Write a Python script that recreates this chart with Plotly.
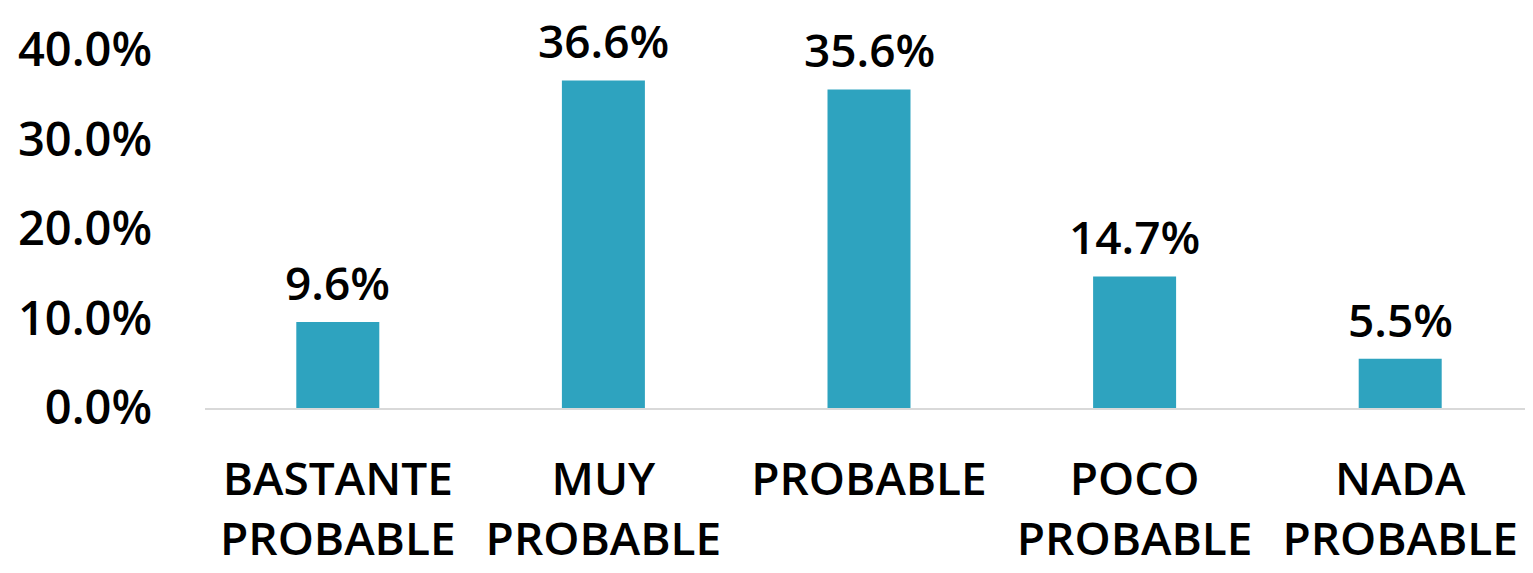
import plotly.graph_objects as go

categories = ["BASTANTE<br>PROBABLE", "MUY<br>PROBABLE", "PROBABLE", "POCO<br>PROBABLE", "NADA<br>PROBABLE"]
values = [9.6, 36.6, 35.6, 14.7, 5.5]
y_ticks = [0, 10, 20, 30, 40]
y_tick_labels = ["0.0%", "10.0%", "20.0%", "30.0%", "40.0%"]

fig = go.Figure(
    go.Bar(
        x=categories,
        y=values,
        marker=dict(color="#2EA3BF", line=dict(width=0)),
        cliponaxis=False,
    )
)

for c, v in zip(categories, values):
    fig.add_annotation(
        x=c, y=v, xref="x", yref="y",
        text=f"{v:.1f}%",
        showarrow=False,
        yanchor="bottom",
        yshift=8,
        borderpad=0,
        font=dict(family="Open Sans", size=46, color="#000000", weight=600),
    )

fig.update_layout(
    width=1525,
    height=565,
    margin=dict(l=197, r=0, t=42, b=165, autoexpand=False),
    paper_bgcolor="white",
    plot_bgcolor="white",
    bargap=0.6875,
    showlegend=False,
    font=dict(family="Open Sans", color="#000000"),
)
fig.update_xaxes(
    automargin=False,
    showline=True,
    linecolor="#D9D9D9",
    linewidth=2,
    showgrid=False,
    ticks="",
    tickfont=dict(family="Open Sans", size=46, color="#000000", weight=600),
    ticklabelstandoff=30,
)
fig.update_yaxes(
    automargin=False,
    range=[0, 40],
    tickvals=y_ticks,
    ticktext=y_tick_labels,
    showgrid=False,
    zeroline=False,
    showline=False,
    ticks="",
    tickfont=dict(family="Open Sans", size=47, color="#000000", weight=600),
    ticklabelstandoff=52,
)

fig.write_html("out.html")
